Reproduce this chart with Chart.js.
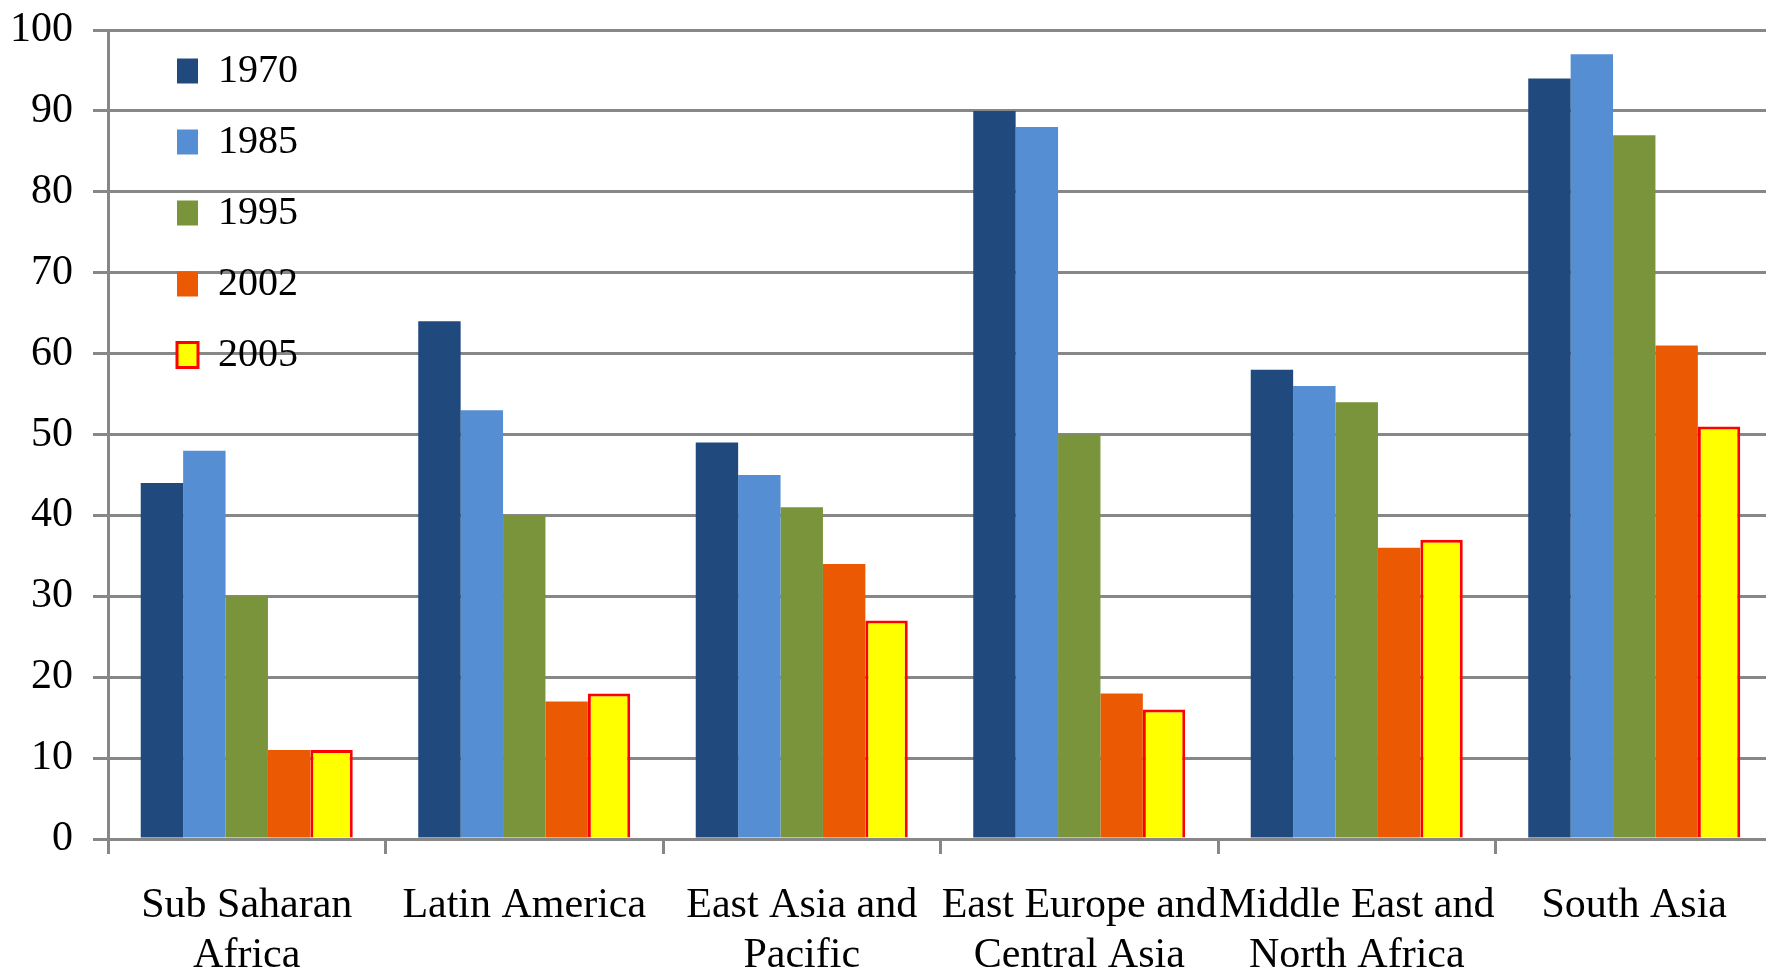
<!DOCTYPE html>
<html>
<head>
<meta charset="utf-8">
<script src="https://cdn.jsdelivr.net/npm/chart.js@4"></script>
<style>
  html, body { margin: 0; padding: 0; background: #fff; overflow: hidden; }
  #wrap { width: 1766px; height: 970px; overflow: hidden; }
</style>
</head>
<body>
<div id="wrap">
  <canvas id="chartRegions" width="1776" height="990"></canvas>
</div>
<script>
// Regions and yearly values
const regions = [
  ['Sub Saharan', 'Africa'],
  ['Latin America'],
  ['East Asia and', 'Pacific'],
  ['East Europe and', 'Central Asia'],
  ['Middle East and', 'North Africa'],
  ['South Asia']
];
const years = ['1970', '1985', '1995', '2002', '2005'];

const values1970 = [44, 64, 49, 90, 58, 94];
const values1985 = [48, 53, 45, 88, 56, 97];
const values1995 = [30, 40, 41, 50, 54, 87];
const values2002 = [11, 17, 34, 18, 36, 61];
const values2005 = [11, 18, 27, 16, 37, 51];

const yTicks = [0, 10, 20, 30, 40, 50, 60, 70, 80, 90, 100];

const gridGrey = '#878787';
const serif = 'Liberation Serif, Times New Roman, serif';

const series = [
  { data: values1970, fill: '#204A7E' },
  { data: values1985, fill: '#568ED4' },
  { data: values1995, fill: '#7A943C' },
  { data: values2002, fill: '#EB5A02' },
  { data: values2005, fill: '#FFFF00', border: '#FF0000', width: 3 }
];

// put the legend block inside the plot, right of the axis
const legendPlace = {
  id: 'legendPlace',
  afterLayout(chart) {
    chart.legend.left = 146;
    chart.legend.top = 20;
  }
};

Chart.defaults.font.family = serif;
Chart.defaults.color = '#000';

new Chart(document.getElementById('chartRegions').getContext('2d'), {
  type: 'bar',
  data: {
    labels: regions,
    datasets: series.map((s, i) => ({
      label: years[i],
      data: s.data,
      backgroundColor: s.fill,
      borderColor: s.border || s.fill,
      borderWidth: s.width || 0,
      barPercentage: 1,
      categoryPercentage: 0.764
    }))
  },
  options: {
    responsive: false,
    animation: false,
    devicePixelRatio: 1,
    layout: { padding: { left: 13, top: 30, right: 3, bottom: 0 } },
    plugins: {
      tooltip: { enabled: false },
      legend: {
        position: 'chartArea',
        align: 'start',
        labels: {
          boxWidth: 21,
          boxHeight: 25,
          padding: 31,
          font: { size: 40, family: serif },
          color: '#000'
        }
      }
    },
    scales: {
      x: {
        offset: true,
        afterFit(scale) {
          scale.paddingLeft = 0;
          scale.paddingRight = 0;
          scale.height = 151;
        },
        grid: {
          offset: true,
          drawOnChartArea: false,
          drawTicks: true,
          tickLength: 15,
          color: gridGrey,
          lineWidth: 3
        },
        border: { color: gridGrey, width: 3 },
        ticks: {
          autoSkip: false,
          maxRotation: 0,
          minRotation: 0,
          padding: 27,
          font: { size: 42, family: serif, lineHeight: 1.19 },
          color: '#000'
        }
      },
      y: {
        min: 0,
        max: 100,
        afterBuildTicks(axis) {
          axis.ticks = yTicks.map(v => ({ value: v }));
        },
        afterFit(scale) {
          scale.paddingTop = 0;
          scale.paddingBottom = 0;
          scale.width = 95;
        },
        grid: {
          color: gridGrey,
          lineWidth: 3,
          drawTicks: true,
          tickLength: 15
        },
        border: { color: gridGrey, width: 3 },
        ticks: {
          padding: 20,
          font: { size: 42, family: serif },
          color: '#000'
        }
      }
    }
  },
  plugins: [legendPlace]
});
</script>
</body>
</html>
